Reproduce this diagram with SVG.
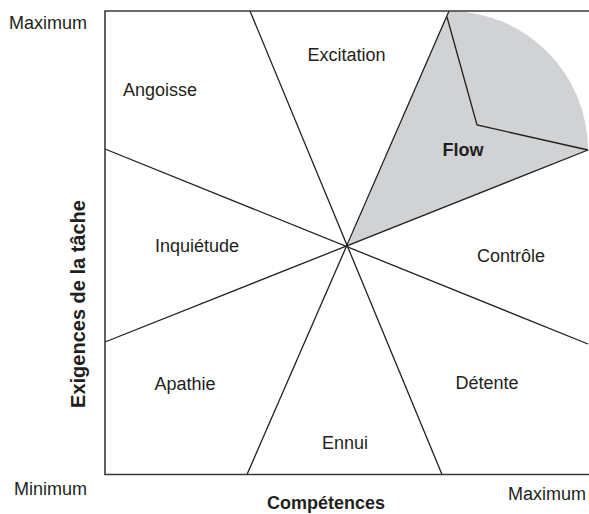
<svg xmlns="http://www.w3.org/2000/svg" width="589" height="514" viewBox="0 0 589 514">
<style>
.bg{fill:#ffffff}
.ln{stroke:#231f20;stroke-width:1.3;fill:none}
.frame{stroke:#3a3a3a;stroke-width:1.6;fill:none}
.lbl{font-family:"Liberation Sans",Arial,sans-serif;font-size:18px;fill:#231f20;text-anchor:middle}
.ax{font-family:"Liberation Sans",Arial,sans-serif;font-size:18px;fill:#231f20}
.b{font-weight:bold}
.flow{fill:#d1d2d4}
</style>
<rect class="bg" x="0" y="0" width="589" height="514"/>
<g id="flow-zone">
<path class="flow" d="M347.5,246.5 L449,11 A139,139 0 0 1 588,150 Z"/>
</g>
<g id="connectors">
<line class="ln" x1="250" y1="11" x2="442" y2="474.5"/>
<line class="ln" x1="449" y1="11" x2="247" y2="474.5"/>
<line class="ln" x1="105" y1="149" x2="588" y2="344"/>
<line class="ln" x1="105" y1="342" x2="588" y2="150"/>
<polyline class="ln" points="447,17 477,125 588,150"/>
</g>
<g id="frame">
<polyline class="frame" points="589,11 105,11 105,474.5 589,474.5"/>
</g>
<g id="angoisse"><text class="lbl" x="160" y="96">Angoisse</text></g>
<g id="excitation"><text class="lbl" x="346.5" y="61">Excitation</text></g>
<g id="flow"><text class="lbl b" x="463" y="156">Flow</text></g>
<g id="inquietude"><text class="lbl" x="197" y="252">Inquiétude</text></g>
<g id="controle"><text class="lbl" x="511" y="262">Contrôle</text></g>
<g id="apathie"><text class="lbl" x="185" y="390">Apathie</text></g>
<g id="detente"><text class="lbl" x="487" y="389">Détente</text></g>
<g id="ennui"><text class="lbl" x="345" y="449">Ennui</text></g>
<g id="axes">
<text class="ax" x="9" y="29">Maximum</text>
<text class="ax" x="14" y="495">Minimum</text>
<text class="ax" x="508" y="500">Maximum</text>
<text class="ax b" x="326" y="509" text-anchor="middle">Compétences</text>
<text class="ax b" x="0" y="0" text-anchor="middle" style="font-size:20px" transform="translate(85,304) rotate(-90)">Exigences de la tâche</text>
</g>
</svg>
